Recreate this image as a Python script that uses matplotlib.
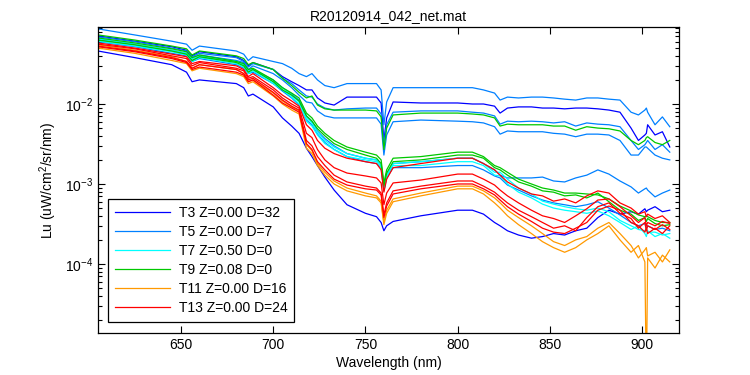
import matplotlib
matplotlib.use("Agg")
import matplotlib.pyplot as plt
import numpy as np

plt.rcParams['font.family'] = ['Liberation Sans', 'DejaVu Sans']
plt.rcParams['mathtext.fontset'] = 'custom'
plt.rcParams['mathtext.rm'] = 'Liberation Sans'
plt.rcParams['mathtext.it'] = 'Liberation Sans'

# ---------------- data ----------------
wavelength = [605, 625, 645, 653, 656, 660, 680, 684, 686.5, 689, 700, 705, 710, 714, 718, 721,
              724, 728, 733, 740, 750, 756, 758.5, 760, 761.5, 765, 780, 800, 808, 814, 820, 823,
              827, 833, 840, 846, 852, 858, 864, 870, 876, 882, 888, 894, 898, 901.5, 902.3, 903,
              907, 911, 915]

# T3 (blue)
t3_low = [4.6e-2, 3.8e-2, 3.1e-2, 2.5e-2, 1.9e-2, 2.0e-2, 1.8e-2, 1.6e-2, 1.26e-2, 1.33e-2,
          9.2e-3, 6.7e-3, 5.3e-3, 4.3e-3, 2.8e-3, 2.2e-3, 1.7e-3, 1.22e-3, 8.4e-4, 5.5e-4,
          4.3e-4, 3.9e-4, 3.3e-4, 2.6e-4, 3.0e-4, 3.4e-4, 4.0e-4, 4.7e-4, 4.7e-4, 4.2e-4,
          3.3e-4, 3.0e-4, 2.6e-4, 2.3e-4, 2.1e-4, 2.2e-4, 2.4e-4, 2.3e-4, 2.6e-4, 2.8e-4,
          3.8e-4, 4.7e-4, 4.2e-4, 4.5e-4, 4.2e-4, 4.9e-4, 4.5e-4, 4.7e-4, 5.2e-4, 4.5e-4, 4.7e-4]
t3_up = [7.1e-2, 6.1e-2, 5.2e-2, 4.7e-2, 4.0e-2, 4.5e-2, 3.9e-2, 3.5e-2, 3.0e-2, 3.3e-2,
         2.7e-2, 2.2e-2, 1.9e-2, 1.7e-2, 1.5e-2, 1.5e-2, 1.19e-2, 1.03e-2, 9.7e-3, 1.22e-2,
         1.22e-2, 1.22e-2, 1.03e-2, 3.5e-3, 6.7e-3, 1.06e-2, 1.03e-2, 1.03e-2, 1.0e-2, 1.0e-2,
         9.4e-3, 7.7e-3, 8.9e-3, 9.2e-3, 9.2e-3, 8.9e-3, 8.9e-3, 8.7e-3, 8.9e-3, 8.9e-3,
         8.7e-3, 8.4e-3, 7.9e-3, 5.0e-3, 3.5e-3, 4.1e-3, 4.3e-3, 5.5e-3, 4.1e-3, 4.5e-3, 2.9e-3]

# T5 (light blue)
t5_a = [8.7e-2, 7.3e-2, 6.1e-2, 5.6e-2, 4.7e-2, 5.3e-2, 4.6e-2, 4.2e-2, 3.5e-2, 3.9e-2,
        3.4e-2, 3.2e-2, 2.8e-2, 2.4e-2, 2.2e-2, 2.4e-2, 2.0e-2, 1.7e-2, 1.6e-2, 1.8e-2,
        1.8e-2, 1.8e-2, 1.5e-2, 5.5e-3, 1.06e-2, 1.6e-2, 1.6e-2, 1.6e-2, 1.6e-2, 1.5e-2,
        1.37e-2, 1.12e-2, 1.22e-2, 1.19e-2, 1.22e-2, 1.22e-2, 1.19e-2, 1.15e-2, 1.12e-2, 1.19e-2,
        1.19e-2, 1.15e-2, 1.12e-2, 7.9e-3, 7.3e-3, 8.4e-3, 8.9e-3, 7.9e-3, 5.5e-3, 6.9e-3, 5.2e-3]
t5_b = [6.9e-2, 6.0e-2, 5.0e-2, 4.6e-2, 3.9e-2, 4.3e-2, 3.8e-2, 3.4e-2, 2.9e-2, 3.2e-2,
        2.7e-2, 2.1e-2, 1.8e-2, 1.5e-2, 1.26e-2, 1.22e-2, 1.0e-2, 8.9e-3, 8.4e-3, 8.7e-3,
        8.9e-3, 8.9e-3, 7.5e-3, 3.1e-3, 5.5e-3, 7.9e-3, 8.2e-3, 8.2e-3, 7.9e-3, 7.7e-3,
        7.1e-3, 5.6e-3, 6.1e-3, 6.0e-3, 6.1e-3, 6.0e-3, 5.8e-3, 6.0e-3, 5.3e-3, 5.8e-3,
        5.6e-3, 5.5e-3, 5.2e-3, 3.5e-3, 2.7e-3, 3.1e-3, 3.3e-3, 3.5e-3, 2.7e-3, 3.1e-3, 2.5e-3]
t5_c = [6.5e-2, 5.6e-2, 4.7e-2, 4.3e-2, 3.7e-2, 4.1e-2, 3.5e-2, 3.3e-2, 2.7e-2, 3.0e-2,
        2.4e-2, 2.0e-2, 1.6e-2, 1.29e-2, 1.06e-2, 1.03e-2, 8.2e-3, 7.1e-3, 6.7e-3, 6.7e-3,
        6.7e-3, 6.7e-3, 5.6e-3, 2.3e-3, 4.1e-3, 6.0e-3, 6.3e-3, 6.1e-3, 6.0e-3, 5.8e-3,
        5.2e-3, 4.2e-3, 4.6e-3, 4.5e-3, 4.5e-3, 4.5e-3, 4.3e-3, 4.2e-3, 3.9e-3, 4.2e-3,
        4.2e-3, 4.1e-3, 3.5e-3, 2.3e-3, 2.3e-3, 2.9e-3, 2.9e-3, 2.8e-3, 2.3e-3, 2.1e-3, 2.0e-3]
t5_d = [6.3e-2, 5.5e-2, 4.6e-2, 4.2e-2, 3.5e-2, 3.9e-2, 3.4e-2, 3.1e-2, 2.6e-2, 2.7e-2,
        2.0e-2, 1.6e-2, 1.33e-2, 1.12e-2, 7.1e-3, 6.1e-3, 4.6e-3, 3.7e-3, 3.0e-3, 2.4e-3,
        2.1e-3, 2.0e-3, 1.7e-3, 8.9e-4, 1.29e-3, 1.8e-3, 1.9e-3, 2.1e-3, 2.1e-3, 1.8e-3,
        1.5e-3, 1.29e-3, 1.19e-3, 1.19e-3, 1.19e-3, 1.22e-3, 1.09e-3, 1.06e-3, 1.19e-3, 1.29e-3,
        1.5e-3, 1.33e-3, 1.09e-3, 9.2e-4, 7.7e-4, 8.7e-4, 8.9e-4, 8.4e-4, 6.9e-4, 7.7e-4, 8.4e-4]
t5_e = [6.0e-2, 5.2e-2, 4.3e-2, 4.0e-2, 3.4e-2, 3.7e-2, 3.1e-2, 2.8e-2, 2.4e-2, 2.5e-2,
        1.8e-2, 1.45e-2, 1.19e-2, 9.7e-3, 6.3e-3, 5.5e-3, 4.2e-3, 3.3e-3, 2.7e-3, 2.2e-3,
        1.9e-3, 1.8e-3, 1.6e-3, 8.2e-4, 1.19e-3, 1.6e-3, 1.6e-3, 1.7e-3, 1.7e-3, 1.5e-3,
        1.26e-3, 1.19e-3, 9.7e-4, 8.4e-4, 7.1e-4, 6.3e-4, 5.8e-4, 5.5e-4, 5.2e-4, 5.5e-4,
        6.0e-4, 5.0e-4, 4.1e-4, 3.3e-4, 3.0e-4, 3.2e-4, 2.8e-4, 3.0e-4, 2.7e-4, 2.8e-4, 2.6e-4]

# T7 (cyan)
t7_a = [6.5e-2, 5.6e-2, 4.7e-2, 4.3e-2, 3.7e-2, 4.0e-2, 3.4e-2, 3.1e-2, 2.6e-2, 2.7e-2,
        1.9e-2, 1.6e-2, 1.29e-2, 1.06e-2, 6.7e-3, 5.8e-3, 4.5e-3, 3.5e-3, 2.9e-3, 2.4e-3,
        2.1e-3, 2.0e-3, 1.7e-3, 8.9e-4, 1.29e-3, 1.8e-3, 1.9e-3, 2.1e-3, 2.1e-3, 1.8e-3,
        1.4e-3, 1.4e-3, 1.15e-3, 8.9e-4, 7.5e-4, 6.1e-4, 5.6e-4, 5.2e-4, 4.9e-4, 4.7e-4,
        5.0e-4, 4.5e-4, 3.5e-4, 3.0e-4, 2.7e-4, 2.6e-4, 2.8e-4, 2.5e-4, 2.5e-4, 2.3e-4, 2.4e-4]
t7_b = [6.1e-2, 5.3e-2, 4.5e-2, 4.1e-2, 3.4e-2, 3.8e-2, 3.2e-2, 2.9e-2, 2.4e-2, 2.6e-2,
        1.8e-2, 1.5e-2, 1.22e-2, 1.0e-2, 6.1e-3, 5.3e-3, 4.1e-3, 3.2e-3, 2.7e-3, 2.2e-3,
        2.0e-3, 1.9e-3, 1.6e-3, 8.4e-4, 1.22e-3, 1.7e-3, 1.7e-3, 1.9e-3, 1.9e-3, 1.7e-3,
        1.29e-3, 1.26e-3, 1.0e-3, 7.9e-4, 6.7e-4, 5.6e-4, 5.0e-4, 4.7e-4, 4.5e-4, 4.3e-4,
        4.6e-4, 4.0e-4, 3.3e-4, 2.7e-4, 3.0e-4, 2.4e-4, 2.2e-4, 2.6e-4, 2.2e-4, 2.4e-4, 2.1e-4]

# T9 (green)
t9_up = [7.3e-2, 6.3e-2, 5.3e-2, 4.9e-2, 4.1e-2, 4.6e-2, 4.0e-2, 3.7e-2, 3.1e-2, 3.3e-2,
         2.7e-2, 2.1e-2, 1.7e-2, 1.4e-2, 1.19e-2, 1.26e-2, 9.7e-3, 8.7e-3, 8.4e-3, 8.4e-3,
         8.4e-3, 8.2e-3, 6.9e-3, 2.7e-3, 5.0e-3, 7.3e-3, 7.7e-3, 7.7e-3, 7.5e-3, 7.3e-3,
         6.7e-3, 5.3e-3, 5.6e-3, 5.5e-3, 5.5e-3, 5.5e-3, 5.3e-3, 5.3e-3, 4.7e-3, 5.2e-3,
         5.0e-3, 4.9e-3, 4.6e-3, 3.5e-3, 3.1e-3, 3.5e-3, 3.8e-3, 3.9e-3, 3.3e-3, 3.1e-3, 3.5e-3]
t9_a = [6.7e-2, 5.8e-2, 4.9e-2, 4.5e-2, 3.8e-2, 4.1e-2, 3.4e-2, 3.2e-2, 2.7e-2, 2.8e-2,
        2.0e-2, 1.6e-2, 1.37e-2, 1.19e-2, 7.7e-3, 6.7e-3, 5.3e-3, 4.3e-3, 3.5e-3, 2.9e-3,
        2.5e-3, 2.3e-3, 2.0e-3, 1.03e-3, 1.5e-3, 2.1e-3, 2.2e-3, 2.5e-3, 2.5e-3, 2.2e-3,
        1.7e-3, 1.6e-3, 1.4e-3, 1.15e-3, 1.0e-3, 8.9e-4, 8.4e-4, 7.7e-4, 7.7e-4, 7.5e-4,
        7.3e-4, 6.5e-4, 5.3e-4, 4.6e-4, 4.1e-4, 3.9e-4, 4.0e-4, 3.9e-4, 3.5e-4, 3.3e-4, 3.3e-4]
t9_b = [6.3e-2, 5.5e-2, 4.6e-2, 4.2e-2, 3.5e-2, 3.9e-2, 3.3e-2, 3.0e-2, 2.5e-2, 2.7e-2,
        1.9e-2, 1.5e-2, 1.29e-2, 1.09e-2, 7.1e-3, 6.1e-3, 4.9e-3, 4.0e-3, 3.2e-3, 2.7e-3,
        2.3e-3, 2.1e-3, 1.8e-3, 9.4e-4, 1.37e-3, 1.9e-3, 2.0e-3, 2.3e-3, 2.3e-3, 2.1e-3,
        1.6e-3, 1.5e-3, 1.29e-3, 1.06e-3, 9.4e-4, 8.2e-4, 7.9e-4, 7.1e-4, 7.3e-4, 6.7e-4,
        7.7e-4, 6.0e-4, 4.7e-4, 4.2e-4, 3.5e-4, 3.8e-4, 3.4e-4, 3.7e-4, 3.2e-4, 3.0e-4, 3.1e-4]

# T11 (orange)
t11_a = [5.5e-2, 4.7e-2, 3.9e-2, 3.4e-2, 2.8e-2, 3.1e-2, 2.7e-2, 2.4e-2, 1.9e-2, 2.0e-2,
         1.37e-2, 1.09e-2, 9.2e-3, 8.2e-3, 3.1e-3, 2.6e-3, 1.8e-3, 1.4e-3, 1.09e-3, 8.9e-4,
         7.7e-4, 7.1e-4, 6.1e-4, 3.3e-4, 4.7e-4, 6.5e-4, 7.7e-4, 9.4e-4, 9.4e-4, 8.2e-4,
         6.7e-4, 5.8e-4, 4.7e-4, 3.8e-4, 3.0e-4, 2.4e-4, 1.9e-4, 1.7e-4, 2.0e-4, 2.2e-4,
         2.8e-4, 3.3e-4, 2.4e-4, 1.7e-4, 1.19e-4, 1.5e-4, 1.6e-4, 1.26e-4, 1.4e-4, 1.06e-4, 1.5e-4]
t11_b = [5.0e-2, 4.3e-2, 3.5e-2, 3.2e-2, 2.6e-2, 2.8e-2, 2.4e-2, 2.2e-2, 1.8e-2, 1.9e-2,
         1.26e-2, 1.0e-2, 8.4e-3, 7.5e-3, 2.8e-3, 2.4e-3, 1.7e-3, 1.29e-3, 1.0e-3, 8.2e-4,
         7.1e-4, 6.7e-4, 5.8e-4, 3.1e-4, 4.3e-4, 6.0e-4, 7.1e-4, 8.7e-4, 8.7e-4, 7.5e-4,
         5.8e-4, 5.0e-4, 4.0e-4, 3.1e-4, 2.4e-4, 1.9e-4, 1.6e-4, 1.4e-4, 1.6e-4, 2.0e-4,
         2.4e-4, 3.0e-4, 2.0e-4, 1.4e-4, 1.7e-4, 1.06e-4, 3.0e-6, 1.19e-4, 8.9e-5, 1.29e-4, 1.06e-4]

# T13 (red)
t13_a = [5.8e-2, 5.0e-2, 4.2e-2, 3.9e-2, 3.2e-2, 3.4e-2, 3.0e-2, 2.7e-2, 2.2e-2, 2.4e-2,
         1.6e-2, 1.29e-2, 1.09e-2, 9.4e-3, 5.5e-3, 4.7e-3, 3.5e-3, 2.8e-3, 2.4e-3, 2.1e-3,
         1.9e-3, 1.8e-3, 1.5e-3, 7.9e-4, 1.15e-3, 1.6e-3, 1.8e-3, 2.1e-3, 2.1e-3, 1.8e-3,
         1.5e-3, 1.29e-3, 1.06e-3, 8.9e-4, 7.5e-4, 7.1e-4, 6.1e-4, 6.5e-4, 5.8e-4, 7.1e-4,
         8.2e-4, 7.7e-4, 5.8e-4, 5.0e-4, 4.2e-4, 4.5e-4, 3.9e-4, 4.2e-4, 3.7e-4, 4.0e-4, 3.3e-4]
t13_b = [5.6e-2, 4.9e-2, 4.0e-2, 3.7e-2, 3.0e-2, 3.3e-2, 2.8e-2, 2.6e-2, 2.1e-2, 2.2e-2,
         1.5e-2, 1.19e-2, 1.0e-2, 8.9e-3, 4.3e-3, 3.8e-3, 2.7e-3, 2.0e-3, 1.6e-3, 1.37e-3,
         1.26e-3, 1.19e-3, 1.03e-3, 5.5e-4, 7.7e-4, 1.03e-3, 1.12e-3, 1.33e-3, 1.33e-3, 1.15e-3,
         9.7e-4, 8.4e-4, 7.1e-4, 5.8e-4, 4.7e-4, 4.0e-4, 3.7e-4, 3.3e-4, 4.0e-4, 4.9e-4,
         6.3e-4, 6.5e-4, 5.2e-4, 4.0e-4, 3.3e-4, 3.8e-4, 3.0e-4, 3.3e-4, 3.0e-4, 3.4e-4, 3.2e-4]
t13_c = [5.3e-2, 4.6e-2, 3.8e-2, 3.4e-2, 2.8e-2, 3.1e-2, 2.7e-2, 2.4e-2, 2.0e-2, 2.1e-2,
         1.4e-2, 1.12e-2, 9.4e-3, 8.4e-3, 3.5e-3, 3.0e-3, 2.2e-3, 1.7e-3, 1.29e-3, 1.06e-3,
         9.4e-4, 8.9e-4, 7.7e-4, 4.1e-4, 5.8e-4, 8.2e-4, 9.4e-4, 1.09e-3, 1.09e-3, 9.4e-4,
         7.9e-4, 6.9e-4, 5.8e-4, 4.7e-4, 3.9e-4, 3.3e-4, 2.8e-4, 3.0e-4, 2.6e-4, 3.8e-4,
         5.2e-4, 5.8e-4, 4.3e-4, 3.7e-4, 2.8e-4, 3.3e-4, 2.6e-4, 3.0e-4, 2.7e-4, 3.1e-4, 2.7e-4]
t13_d = [5.2e-2, 4.5e-2, 3.7e-2, 3.3e-2, 2.7e-2, 2.9e-2, 2.5e-2, 2.3e-2, 1.9e-2, 2.0e-2,
         1.29e-2, 1.03e-2, 8.9e-3, 7.9e-3, 3.2e-3, 2.7e-3, 1.9e-3, 1.5e-3, 1.15e-3, 9.7e-4,
         8.7e-4, 8.4e-4, 7.3e-4, 3.8e-4, 5.3e-4, 7.5e-4, 8.7e-4, 1.0e-3, 1.0e-3, 8.7e-4,
         7.3e-4, 6.3e-4, 5.2e-4, 4.2e-4, 3.4e-4, 2.8e-4, 2.5e-4, 2.4e-4, 2.8e-4, 3.3e-4,
         4.7e-4, 5.3e-4, 4.7e-4, 3.3e-4, 3.0e-4, 2.5e-4, 2.8e-4, 2.4e-4, 2.8e-4, 2.4e-4, 3.0e-4]

legend_labels = ["T3 Z=0.00 D=32", "T5 Z=0.00 D=7", "T7 Z=0.50 D=0",
                 "T9 Z=0.08 D=0", "T11 Z=0.00 D=16", "T13 Z=0.00 D=24"]
title_text = "R20120914_042_net.mat"

groups = [
    ("#0000ff", [t3_low, t3_up]),
    ("#0080ff", [t5_a, t5_b, t5_c, t5_d, t5_e]),
    ("#00ffff", [t7_a, t7_b]),
    ("#00c800", [t9_up, t9_a, t9_b]),
    ("#ff9900", [t11_a, t11_b]),
    ("#ff0000", [t13_a, t13_b, t13_c, t13_d]),
]

# ---------------- plot ----------------
fig = plt.figure(figsize=(7.5, 3.75), dpi=100)
ax = fig.add_axes([98 / 750, 1 - 333 / 375, 581 / 750, 306 / 375])

handles = []
for color, series in groups:
    first = None
    for s in series:
        ln, = ax.plot(wavelength, s, color=color, lw=0.9)
        if first is None:
            first = ln
    handles.append(first)

ax.set_yscale('log')
ax.set_xlim(605, 920)
ax.set_ylim(1.37e-5, 0.0918)
ax.set_xticks([650, 700, 750, 800, 850, 900])

ax.tick_params(which='both', direction='in', top=True, right=True, labelsize=10, width=0.8)
ax.tick_params(which='major', length=5)
ax.tick_params(which='minor', length=3)
for sp in ax.spines.values():
    sp.set_linewidth(0.9)

ax.set_title(title_text, fontsize=10, pad=5)
ax.set_xlabel("Wavelength (nm)", fontsize=10, labelpad=3)
ax.set_ylabel("Lu (uW/cm$^2$/sr/nm)", fontsize=10, labelpad=4)

leg = ax.legend(handles, legend_labels, loc='lower left', bbox_to_anchor=(0.017, 0.036),
                borderaxespad=0, fontsize=10, handlelength=4.0, labelspacing=0.36,
                fancybox=False, framealpha=1, edgecolor='black', borderpad=0.5, handletextpad=0.6)
leg.get_frame().set_linewidth(0.9)

fig.savefig("out.png", dpi=100)
